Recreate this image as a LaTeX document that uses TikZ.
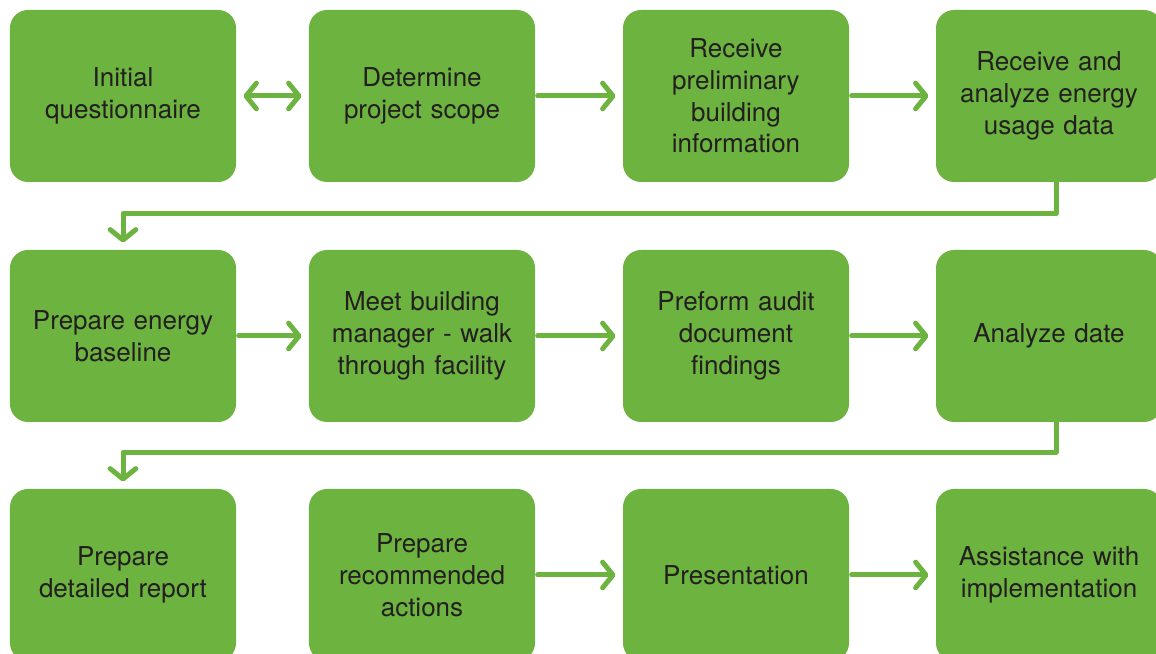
\documentclass[tikz,border=0pt]{standalone}
\usepackage{fontspec}
\setmainfont{TeX Gyre Heros}
\usepackage{xcolor}
\usepackage{tikz}
\usetikzlibrary{arrows.meta}
\definecolor{leaf}{RGB}{109,179,63}
\definecolor{ink}{RGB}{35,31,32}

\begin{document}
\begin{tikzpicture}[x=0.25mm,y=-0.25mm,
    >={Straight Barb[length=2.6mm,width=6.4mm,round]},
    stage/.style={fill=leaf,rounded corners=4.5mm,minimum width=56.5mm,minimum height=43mm,
      text width=54mm,align=center,text=ink,font=\fontsize{18.5}{22.6}\selectfont,inner sep=0pt},
    flow/.style={draw=leaf,line width=1.25mm,line cap=round,line join=round,->}]
      \clip (0,0) rectangle (1156,654);
      % first row
      \node [stage] (quest) at (123,96) {Initial\\questionnaire};
      \node [stage] (scope) at (422,96) {Determine\\project scope};
      \node [stage] (info) at (736,96) {Receive\\preliminary\\building\\information};
      \node [stage] (usage) at (1049,96) {Receive and\\analyze energy\\usage data};
      % second row
      \node [stage] (baseline) at (123,336) {Prepare energy\\baseline};
      \node [stage] (walk) at (422,336) {Meet building\\manager - walk\\through facility};
      \node [stage] (audit) at (736,336) {Preform audit\\document\\findings};
      \node [stage] (analyze) at (1049,336) {Analyze date};
      % third row
      \node [stage] (report) at (123,575) {Prepare\\detailed report};
      \node [stage] (actions) at (422,575) {Prepare\\recommended\\actions};
      \node [stage] (present) at (736,575) {Presentation};
      \node [stage] (assist) at (1049,575) {Assistance with\\implementation};
      % arrows
      \draw [flow,<->,shorten <=1.8mm,shorten >=1.8mm] (quest) -- (scope);
      \draw [flow,shorten <=0.6mm,shorten >=1.8mm] (scope) -- (info);
      \draw [flow,shorten <=0.6mm,shorten >=1.8mm] (info) -- (usage);
      \draw [flow,shorten <=0.6mm,shorten >=1.8mm] (baseline) -- (walk);
      \draw [flow,shorten <=0.6mm,shorten >=1.8mm] (walk) -- (audit);
      \draw [flow,shorten <=0.6mm,shorten >=1.8mm] (audit) -- (analyze);
      \draw [flow,shorten <=0.6mm,shorten >=1.8mm] (actions) -- (present);
      \draw [flow,shorten <=0.6mm,shorten >=1.8mm] (present) -- (assist);
      \draw [flow,shorten >=1.8mm] ([xshift=1.75mm]usage.south) -- ++(0,31) -| (baseline.north);
      \draw [flow,shorten >=1.8mm] ([xshift=1.75mm]analyze.south) -- ++(0,30) -| (report.north);
\end{tikzpicture}
\end{document}
